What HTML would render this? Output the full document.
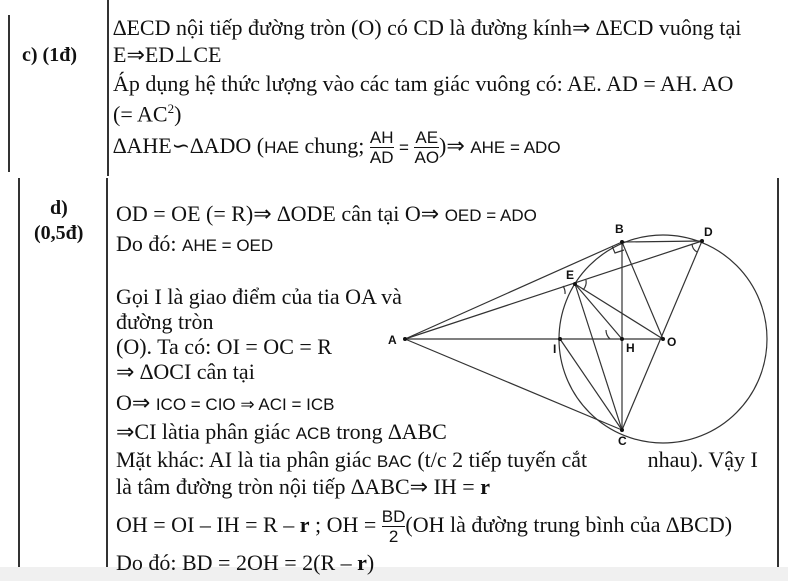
<!DOCTYPE html>
<html><head><meta charset="utf-8"><style>
body{margin:0;width:788px;height:581px;background:#fff;position:relative;overflow:hidden;font-family:"Liberation Serif",serif;font-size:22px;color:#111}
.t{position:absolute;white-space:nowrap;line-height:24px}
.s{font-family:"Liberation Sans",sans-serif;font-size:17px}
.v{position:absolute;background:#333;width:1.5px}
.fr{display:inline-block;vertical-align:middle;text-align:center;font-family:"Liberation Sans",sans-serif;font-size:17px;line-height:19px}
.fr span{display:block}
.fr span:first-child{border-bottom:1px solid #111}
</style></head><body>
<div class="v" style="left:8px;top:15px;height:157px"></div>
<div class="v" style="left:107px;top:0;height:176px"></div>
<div class="v" style="left:18px;top:178px;height:389px"></div>
<div class="v" style="left:106px;top:178px;height:389px"></div>
<div class="v" style="left:777px;top:178px;height:389px"></div>
<div style="position:absolute;left:0;top:567px;width:788px;height:14px;background:#f0f0f0"></div>

<div class="t" style="left:22px;top:43px;font-weight:bold;font-size:20px">c) (1đ)</div>
<div class="t" style="left:113px;top:16px">∆ECD nội tiếp đường tròn (O) có CD là đường kính⇒ ∆ECD vuông tại</div>
<div class="t" style="left:113px;top:43px">E⇒ED⊥CE</div>
<div class="t" style="left:113px;top:72px">Áp dụng hệ thức lượng vào các tam giác vuông có: AE. AD = AH. AO</div>
<div class="t" style="left:113px;top:97px">(= AC<sup style="font-size:13px">2</sup>)</div>
<div class="t" style="left:113px;top:124px;line-height:44px">∆AHE∽∆ADO (<span class="s">HAE</span> chung; <span class="fr"><span>AH</span><span>AD</span></span> <span class="s">=</span> <span class="fr"><span>AE</span><span>AO</span></span>)⇒ <span class="s">AHE = ADO</span></div>

<div class="t" style="left:50px;top:196px;font-weight:bold;font-size:20px">d)</div>
<div class="t" style="left:34px;top:221px;font-weight:bold;font-size:20px">(0,5đ)</div>
<div class="t" style="left:116px;top:202px">OD = OE (= R)⇒ ∆ODE cân tại O⇒ <span class="s">OED = ADO</span></div>
<div class="t" style="left:116px;top:232px">Do đó: <span class="s">AHE = OED</span></div>
<div class="t" style="left:116px;top:285px">Gọi I là giao điểm của tia OA và</div>
<div class="t" style="left:116px;top:310px">đường tròn</div>
<div class="t" style="left:116px;top:335px">(O). Ta có: OI = OC = R</div>
<div class="t" style="left:116px;top:360px">⇒ ∆OCI cân tại</div>
<div class="t" style="left:116px;top:391px">O⇒ <span class="s">ICO = CIO ⇒ ACI = ICB</span></div>
<div class="t" style="left:116px;top:420px">⇒CI làtia phân giác <span class="s">ACB</span> trong ∆ABC</div>
<div class="t" style="left:116px;top:448px">Mặt khác: AI là tia phân giác <span class="s">BAC</span> (t/c 2 tiếp tuyến cắt&nbsp;&nbsp;&nbsp;&nbsp;&nbsp;&nbsp;&nbsp;&nbsp;&nbsp;&nbsp; nhau). Vậy I</div>
<div class="t" style="left:116px;top:475px">là tâm đường tròn nội tiếp ∆ABC⇒ IH = <b>r</b></div>
<div class="t" style="left:116px;top:503px;line-height:44px">OH = OI – IH = R – <b>r</b> ; OH = <span class="fr"><span>BD</span><span style="border:0">2</span></span>(OH là đường trung bình của ∆BCD)</div>
<div class="t" style="left:116px;top:551px">Do đó: BD = 2OH = 2(R – <b>r</b>)</div>

<svg style="position:absolute;left:0;top:0" width="788" height="581" font-family="Liberation Sans,sans-serif" font-size="12" font-weight="bold">
<g stroke="#333" stroke-width="1.2" fill="none">
<circle cx="663" cy="339" r="104"/>
<line x1="405" y1="339" x2="663" y2="339"/>
<line x1="405" y1="339" x2="622" y2="242"/>
<line x1="405" y1="339" x2="622" y2="430"/>
<line x1="405" y1="339" x2="702" y2="241"/>
<line x1="622" y1="242" x2="702" y2="241"/>
<line x1="622" y1="242" x2="622" y2="430"/>
<line x1="622" y1="242" x2="663" y2="339"/>
<line x1="702" y1="241" x2="622" y2="430"/>
<line x1="575" y1="284" x2="663" y2="339"/>
<line x1="575" y1="284" x2="622" y2="339"/>
<line x1="575" y1="284" x2="622" y2="430"/>
<line x1="560" y1="339" x2="622" y2="430"/>
<path d="M612 246 l3 7 l9 -3"/>
<path d="M692 244 a10 10 0 0 0 5 8"/>
<path d="M565 294 a12 12 0 0 0 -2 -8"/>
<path d="M586 280 a12 12 0 0 1 -3 10"/>
<path d="M610 339 a12 12 0 0 1 -4 -9"/>
</g>
<g fill="#111">
<circle cx="405" cy="339" r="2"/><circle cx="663" cy="339" r="2"/><circle cx="622" cy="339" r="2"/><circle cx="560" cy="339" r="2"/><circle cx="622" cy="242" r="2"/><circle cx="622" cy="430" r="2"/><circle cx="702" cy="241" r="2"/><circle cx="575" cy="284" r="2"/>
<text x="388" y="344">A</text><text x="615" y="233">B</text><text x="704" y="236">D</text><text x="566" y="279">E</text><text x="553" y="353">I</text><text x="626" y="352">H</text><text x="667" y="346">O</text><text x="618" y="445">C</text>
</g>
</svg>
</body></html>
